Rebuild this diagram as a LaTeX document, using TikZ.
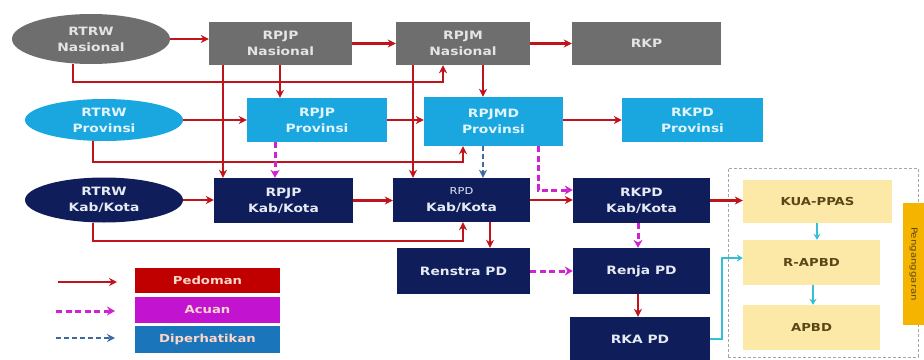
\documentclass[tikz,border=0pt]{standalone}
\usepackage{fontspec}
\setmainfont[FakeStretch=1.2]{DejaVu Sans}
\usetikzlibrary{arrows.meta,shapes.geometric}
\definecolor{cgray}{HTML}{6E6E6E}
\definecolor{cgraytxt}{HTML}{E4E4E4}
\definecolor{clblue}{HTML}{1AA7E0}
\definecolor{clbluetxt}{HTML}{E2F5FD}
\definecolor{cnavy}{HTML}{0F1E5A}
\definecolor{cnavytxt}{HTML}{E6EAF4}
\definecolor{cyel}{HTML}{FCE9A8}
\definecolor{cyeltxt}{HTML}{5A4718}
\definecolor{corange}{HTML}{F5B400}
\definecolor{cred}{HTML}{C0141C}
\definecolor{cmag}{HTML}{CF22D0}
\definecolor{cdip}{HTML}{3D6A9E}
\definecolor{ccyan}{HTML}{35BFD6}
\definecolor{cpedfill}{HTML}{C00000}
\definecolor{cacufill}{HTML}{C214D0}
\definecolor{cdipfill}{HTML}{1B75BB}
\definecolor{clegtxt}{HTML}{FFD6C8}
\begin{document}
\begin{tikzpicture}[x=1pt,y=-1pt,
  font=\fontsize{11.5}{16}\selectfont\bfseries,
  wh/.style 2 args={minimum width=#1pt, minimum height=#2pt},
  box/.style={rectangle, inner sep=0pt, align=center},
  ell/.style={ellipse, inner sep=0pt, align=center},
  gbox/.style={box, fill=cgray, text=cgraytxt},
  bbox/.style={box, fill=clblue, text=clbluetxt},
  nbox/.style={box, fill=cnavy, text=cnavytxt},
  ybox/.style={box, fill=cyel, text=cyeltxt, font=\fontsize{11}{14}\selectfont\bfseries},
  legbox/.style={box, text=clegtxt, font=\fontsize{11}{14}\selectfont\bfseries},
  ped/.style={draw=cred, line width=2.8pt, -{Stealth[length=8pt,width=8pt]}},
  acu/.style={draw=cmag, line width=3pt, dash pattern=on 6pt off 3.5pt, -{Stealth[length=8pt,width=9pt]}},
  dip/.style={draw=cdip, line width=2.8pt, dash pattern=on 5pt off 3pt, -{Stealth[length=8pt,width=8pt]}},
  cy/.style={draw=ccyan, line width=1.6pt, -{Stealth[length=6pt,width=7pt]}},
]
\useasboundingbox (0,0) rectangle (924,359);

% row 1
\node[ell, fill=cgray, text=cgraytxt, wh={158}{50}] (rtrwn) at (91,39) {RTRW\\Nasional};
\node[gbox, wh={143}{43}] (rpjpn) at (280.5,43.5) {RPJP\\Nasional};
\node[gbox, wh={134}{43}] (rpjmn) at (463,43.5) {RPJM\\Nasional};
\node[gbox, wh={149}{43}] (rkp) at (646.5,43.5) {RKP};

% row 2
\node[ell, fill=clblue, text=clbluetxt, wh={158}{42}] (rtrwp) at (104,120) {RTRW\\Provinsi};
\node[bbox, wh={140}{44}] (rpjpp) at (317,120) {RPJP\\Provinsi};
\node[bbox, wh={139}{49}] (rpjmdp) at (493.5,121.5) {RPJMD\\Provinsi};
\node[bbox, wh={141}{44}] (rkpdp) at (692.5,120) {RKPD\\Provinsi};

% row 3
\node[ell, fill=cnavy, text=cnavytxt, wh={158}{45}] (rtrwk) at (104,200) {RTRW\\Kab/Kota};
\node[nbox, wh={139}{45}] (rpjpk) at (283.5,200.5) {RPJP\\Kab/Kota};
\node[nbox, wh={137}{44}] (rpdk) at (461.5,200) {{\fontsize{9.5}{12}\selectfont\mdseries RPD}\\[1pt]Kab/Kota};
\node[nbox, wh={137}{45}] (rkpdk) at (641.5,200.5) {RKPD\\Kab/Kota};

% row 4-5
\node[nbox, wh={133}{46}] (renstra) at (463.5,271) {Renstra PD};
\node[nbox, wh={137}{46}] (renja) at (641.5,271) {Renja PD};
\node[nbox, wh={140}{44}] (rka) at (640,339) {RKA PD};

% budget group
\node[box, draw=gray!70, densely dashed, line width=0.8pt, wh={190}{189}] (grp) at (823,262.5) {};
\node[ybox, wh={149}{43}] (kua) at (817.5,201.5) {KUA-PPAS};
\node[ybox, wh={137}{45}] (rapbd) at (811.5,262.5) {R-APBD};
\node[ybox, wh={137}{45}] (apbd) at (811.5,327.5) {APBD};
\node[box, fill=corange, wh={21}{122}] (bar) at (913.5,264) {};
\node[rotate=-90, text=cyeltxt, font=\fontsize{8.5}{10}\selectfont\mdseries] (bartxt) at (bar.center) {Penganggaran};

% legend
\node[legbox, fill=cpedfill, wh={145}{25}] (lped) at (207.5,280.5) {Pedoman};
\node[legbox, fill=cacufill, wh={145}{26}] (lacu) at (207.5,310) {Acuan};
\node[legbox, fill=cdipfill, wh={145}{27}] (ldip) at (207.5,339.5) {Diperhatikan};
\coordinate (l1a) at (58,282); \coordinate (l1b) at (117,282);
\coordinate (l2a) at (56,311); \coordinate (l2b) at (115,311);
\coordinate (l3a) at (56,338); \coordinate (l3b) at (115,338);
\draw[ped] (l1a) -- (l1b);
\draw[acu] (l2a) -- (l2b);
\draw[dip] (l3a) -- (l3b);

% connectors row 1
\draw[ped] (rtrwn.east) -- (rtrwn.east -| rpjpn.west);
\draw[ped] (rpjpn.east) -- (rpjmn.west);
\draw[ped] (rpjmn.east) -- (rkp.west);
\draw[ped] ([xshift=-18pt]rtrwn.south) |- (443,82) -- (rpjmn.south -| 443,0);
\draw[ped] (rpjpn.south -| 223,0) -- (rpjpk.north -| 223,0);
\draw[ped] (rpjpn.south -| 280,0) -- (rpjpp.north -| 280,0);
\draw[ped] (rpjmn.south -| 413,0) -- (rpdk.north -| 413,0);
\draw[ped] (rpjmn.south -| 483,0) -- (rpjmdp.north -| 483,0);

% row 2
\draw[ped] (rtrwp.east) -- (rpjpp.west);
\draw[ped] (rpjpp.east) -- (rpjpp.east -| rpjmdp.west);
\draw[ped] (rpjmdp.east |- rkpdp.west) -- (rkpdp.west);
\draw[ped] ([xshift=-11pt]rtrwp.south) |- (463,162) -- (rpjmdp.south -| 463,0);
\draw[acu] (rpjpp.south -| 275,0) -- (rpjpk.north -| 275,0);
\draw[dip] (rpjmdp.south -| 483,0) -- (rpdk.north -| 483,0);
\draw[acu] (rpjmdp.south -| 538,0) |- (rkpdk.west |- 0,190);

% row 3
\draw[ped] (rtrwk.east) -- (rtrwk.east -| rpjpk.west);
\draw[ped] (rpjpk.east) -- (rpjpk.east -| rpdk.west);
\draw[ped] (rpdk.east) -- (rpdk.east -| rkpdk.west);
\draw[ped] ([xshift=-11pt]rtrwk.south) |- (463,241) -- (rpdk.south -| 463,0);
\draw[ped] (rpdk.south -| 490,0) -- (renstra.north -| 490,0);
\draw[acu] (renstra.east) -- (renja.west);
\draw[acu] (rkpdk.south -| 638,0) -- (renja.north -| 638,0);
\draw[ped] (renja.south -| 638,0) -- (rka.north -| 638,0);
\draw[ped] (rkpdk.east) -- (rkpdk.east -| kua.west);

% budget
\draw[cy] (rka.east) -| (722,258) -- (rapbd.west |- 0,258);
\draw[cy] (kua.south -| 817,0) -- (rapbd.north -| 817,0);
\draw[cy] (rapbd.south -| 813,0) -- (apbd.north -| 813,0);
\end{tikzpicture}
\end{document}
